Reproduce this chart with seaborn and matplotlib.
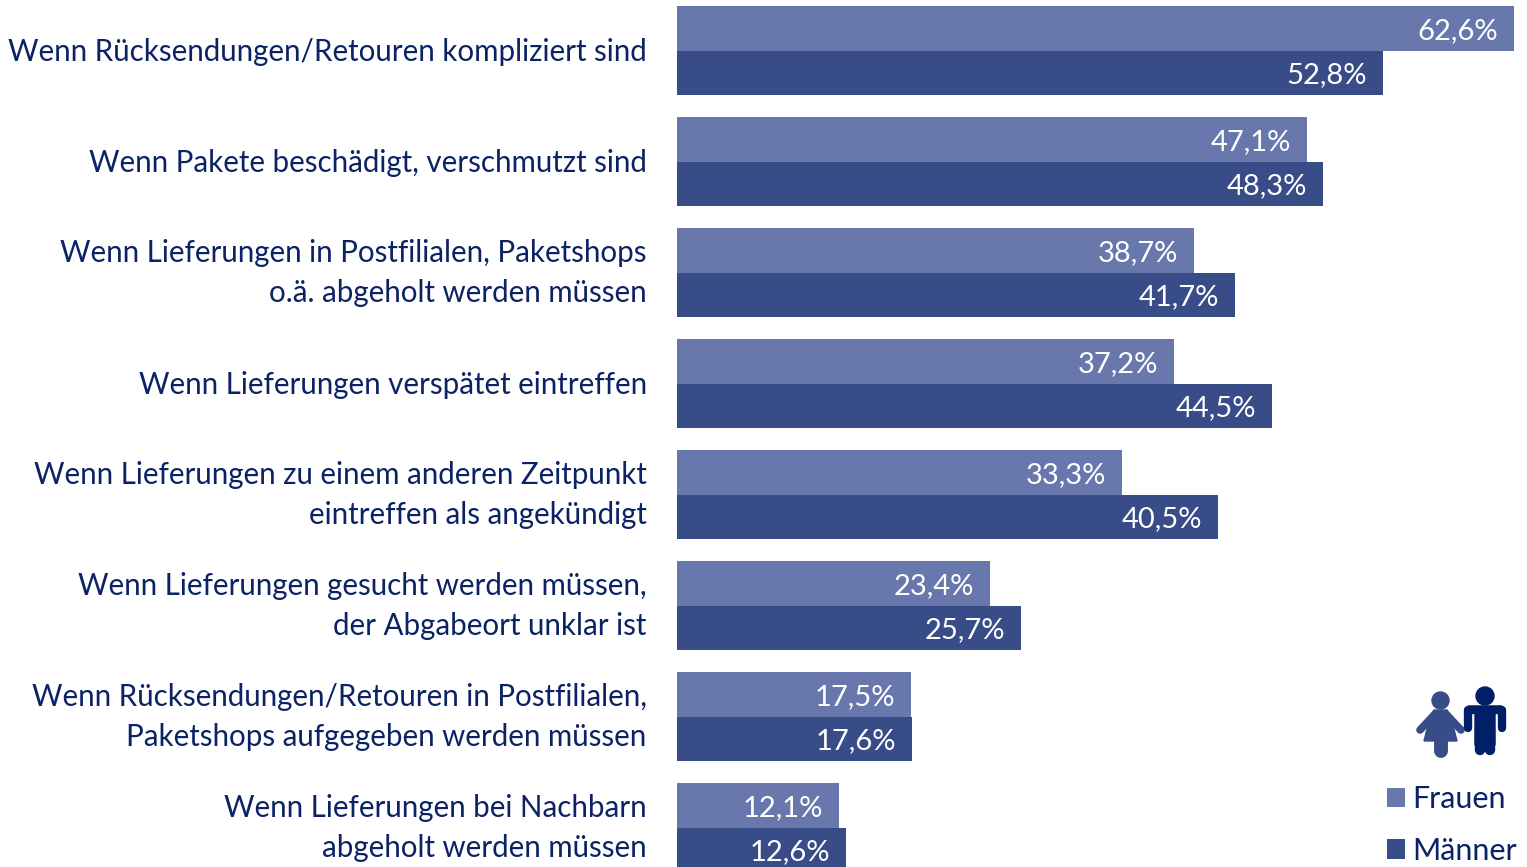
import matplotlib
matplotlib.use("Agg")
import matplotlib.pyplot as plt
from matplotlib.patches import Circle, Polygon
from matplotlib.transforms import ScaledTranslation
import pandas as pd
import seaborn as sns

categories = [
    "Wenn Rücksendungen/Retouren kompliziert sind",
    "Wenn Pakete beschädigt, verschmutzt sind",
    "Wenn Lieferungen in Postfilialen, Paketshops\no.ä. abgeholt werden müssen",
    "Wenn Lieferungen verspätet eintreffen",
    "Wenn Lieferungen zu einem anderen Zeitpunkt\neintreffen als angekündigt",
    "Wenn Lieferungen gesucht werden müssen,\nder Abgabeort unklar ist",
    "Wenn Rücksendungen/Retouren in Postfilialen,\nPaketshops aufgegeben werden müssen",
    "Wenn Lieferungen bei Nachbarn\nabgeholt werden müssen",
]
frauen = [62.6, 47.1, 38.7, 37.2, 33.3, 23.4, 17.5, 12.1]
maenner = [52.8, 48.3, 41.7, 44.5, 40.5, 25.7, 17.6, 12.6]
series_names = ["Frauen", "Männer"]
COL_F, COL_M, COL_TEXT, COL_ICON = "#6878AC", "#384C88", "#0B2265", "#001F66"

sns.set_theme(style="white")
plt.rcParams["font.family"] = ["Lato", "DejaVu Sans"]

df = pd.DataFrame({"cat": categories * 2,
                   "val": frauen + maenner,
                   "sex": [series_names[0]] * 8 + [series_names[1]] * 8})

W, H = 1527, 867
X0 = 677.2
fig = plt.figure(figsize=(W / 100, H / 100), dpi=100)
ax = fig.add_axes([X0 / W, 0, 1 - X0 / W, 1])
sns.barplot(data=df, y="cat", x="val", hue="sex", hue_order=series_names,
            palette=[COL_F, COL_M], order=categories, width=0.8, gap=0,
            saturation=1, orient="h", ax=ax, errorbar=None, linewidth=0, edgecolor="none")
ax.set_xlim(0, (W - X0) / 13.365)
ax.set_ylim((H - 50.5) / 111, -50.5 / 111)
ax.set_xlabel(""); ax.set_ylabel("")
ax.set_xticks([])
sns.despine(ax=ax, left=True, bottom=True)
ax.tick_params(axis="y", length=0, pad=22, labelsize=21.25, labelcolor=COL_TEXT)
for t in ax.get_yticklabels():
    t.set_ha("right")
    t.set_linespacing(1.49)
    up = 5.5 if "\n" in t.get_text() else 1.0
    t.set_transform(t.get_transform() + ScaledTranslation(0, up / 72, fig.dpi_scale_trans))

for cont, vals in zip(ax.containers, [frauen, maenner]):
    labs = [f"{v:.1f}%".replace(".", ",") for v in vals]
    for a in ax.bar_label(cont, labels=labs, padding=-11.5, color="white", fontsize=21):
        a.set_ha("right")
        a.set_va("center")
        a.xyann = (a.xyann[0], a.xyann[1] - 1.8)

handles, labels = ax.get_legend_handles_labels()
ax.get_legend().remove()
fig.legend(handles, labels, loc="lower left", bbox_to_anchor=(1384 / W, -1 / H), frameon=False,
           fontsize=22, labelcolor=COL_TEXT, handlelength=0.6, handleheight=0.6,
           handletextpad=0.24, labelspacing=0.77, borderpad=0.1, borderaxespad=0)

# decorative pictogram in pixel coordinates
ov = fig.add_axes([0, 0, 1, 1], facecolor="none")
ov.set_xlim(0, W); ov.set_ylim(H, 0); ov.axis("off")
def limb(xs, ys, color, lw):
    ov.plot(xs, ys, color=color, lw=lw, solid_capstyle="round", solid_joinstyle="round")
# woman
ov.add_patch(Circle((1440.5, 700.5), 8.5, color=COL_M))
ov.add_patch(Polygon([(1434, 710), (1447, 710), (1451, 717), (1457, 741), (1424, 741), (1430, 717)], color=COL_M))
limb([1435, 1420], [714, 730], COL_M, 5.5)
limb([1446, 1461], [714, 730], COL_M, 5.5)
limb([1440.5, 1440.5], [738, 751], COL_M, 10)
# man
ov.add_patch(Circle((1485, 696), 9, color=COL_ICON))
limb([1468, 1468, 1502, 1502], [728, 710, 710, 728], COL_ICON, 6)
ov.add_patch(Polygon([(1468, 706), (1502, 706), (1495, 712), (1495, 745), (1475, 745), (1475, 712)], color=COL_ICON))
limb([1480, 1480], [730, 750], COL_ICON, 7.5)
limb([1490, 1490], [730, 750], COL_ICON, 7.5)

fig.savefig("out.png", dpi=100)
